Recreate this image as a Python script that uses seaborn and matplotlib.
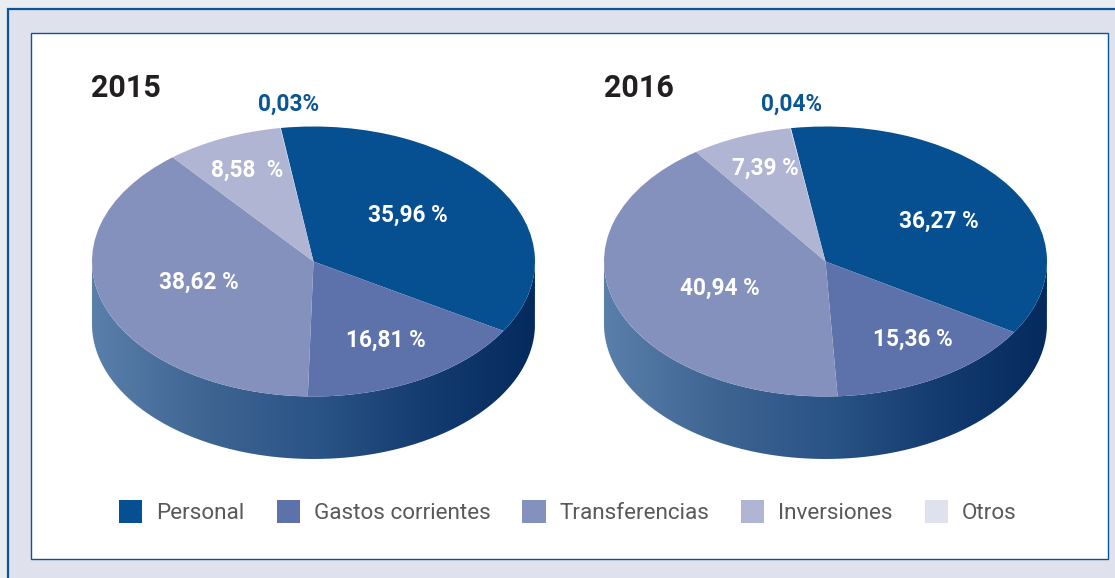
import matplotlib
matplotlib.use("Agg")
import numpy as np
import matplotlib.pyplot as plt
import seaborn as sns
from matplotlib.patches import Rectangle, Patch, PathPatch
from matplotlib.path import Path

categories = ["Personal", "Gastos corrientes", "Transferencias", "Inversiones", "Otros"]
values_2015 = [35.96, 16.81, 38.62, 8.58, 0.03]
values_2016 = [36.27, 15.36, 40.94, 7.39, 0.04]
labels_2015 = ["35,96 %", "16,81 %", "38,62 %", "8,58  %", "0,03%"]
labels_2016 = ["36,27 %", "15,36 %", "40,94 %", "7,39 %", "0,04%"]
years = ["2015", "2016"]
colors = ["#064f91", "#5d72aa", "#8591bd", "#afb5d3", "#dfe1ed"]
wall_colors = ["#5a7fab", "#3f6592", "#2b5487", "#153c70", "#042a5e"]

W, H = 1115, 578
sns.set_theme(style="white")
plt.rcParams["font.family"] = ["Roboto", "DejaVu Sans"]

fig = plt.figure(figsize=(W / 100, H / 100), dpi=100, facecolor="#e9edf2")
bg = fig.add_axes([0, 0, 1, 1], zorder=0)
bg.set_xlim(0, W)
bg.set_ylim(H, 0)
bg.axis("off")
navy = "#0a5596"
bg.add_patch(Rectangle((7.5, 9.0), W, H, fc="#dfe1ed", ec=navy, lw=1.6))
bg.add_patch(Rectangle((31.0, 33.0), 1077, 526, fc="white", ec=navy, lw=1.0))

ramp = np.array(sns.blend_palette(wall_colors, 256))[None, :, :]
rx, ry, depth = 221.5, 135.0, 62.5


def draw_pie(cx, cy, values, start):
    ax = fig.add_axes([(cx - rx) / W, 1 - (cy + ry + depth) / H,
                       2 * rx / W, (2 * ry + depth) / H], zorder=1)
    ax.pie(values, colors=colors, startangle=start, counterclock=False,
           radius=1.0, wedgeprops={"linewidth": 0})
    d = depth / ry
    t = np.linspace(np.pi, 2 * np.pi, 200)
    top = np.column_stack([np.cos(t), np.sin(t)])
    bottom = np.column_stack([np.cos(t[::-1]), np.sin(t[::-1]) - d])
    verts = np.vstack([top, bottom, top[:1]])
    wall = PathPatch(Path(verts), transform=ax.transData, fc="none", ec="none")
    ax.add_patch(wall)
    img = ax.imshow(ramp, extent=(-1, 1, -1 - d, 0.01), aspect="auto", zorder=0)
    img.set_clip_path(wall)
    ax.set_aspect("auto")
    ax.set_xlim(-1, 1)
    ax.set_ylim(-1 - d, 1)
    ax.axis("off")


draw_pie(313.5, 261.5, values_2015, 98.5)
draw_pie(825.5, 261.5, values_2016, 99.0)

title_kw = dict(fontsize=22, fontweight="bold", color="#231f20", ha="left", va="center")
bg.text(91, 88, years[0], **title_kw)
bg.text(604, 88, years[1], **title_kw)

# label anchors are pixel positions of text centres
anchors_2015 = [(408, 215), (386, 340), (199, 282), (247, 170), (289, 104)]
anchors_2016 = [(939, 221), (913, 339), (720, 288), (765, 168), (792, 104)]
for labels, anchors in ((labels_2015, anchors_2015), (labels_2016, anchors_2016)):
    for i, (txt, (x, y)) in enumerate(zip(labels, anchors)):
        is_small = i == 4
        fig.text(x / W, 1 - y / H, txt, fontsize=16.3, fontweight="bold",
                 color=navy if is_small else "white",
                 ha="center", va="center", zorder=5)

handles = [Patch(fc=c, ec="none") for c in colors]
bg.legend(handles, categories, ncol=5, frameon=False, loc="center",
          bbox_to_anchor=(568 / W, 1 - 512 / H), bbox_transform=fig.transFigure,
          fontsize=16.2, labelcolor="#58595b", handlelength=1.03, handleheight=1.217,
          handletextpad=0.62, columnspacing=1.42, borderpad=0, borderaxespad=0)

fig.savefig("out.png", dpi=100, facecolor=fig.get_facecolor())
